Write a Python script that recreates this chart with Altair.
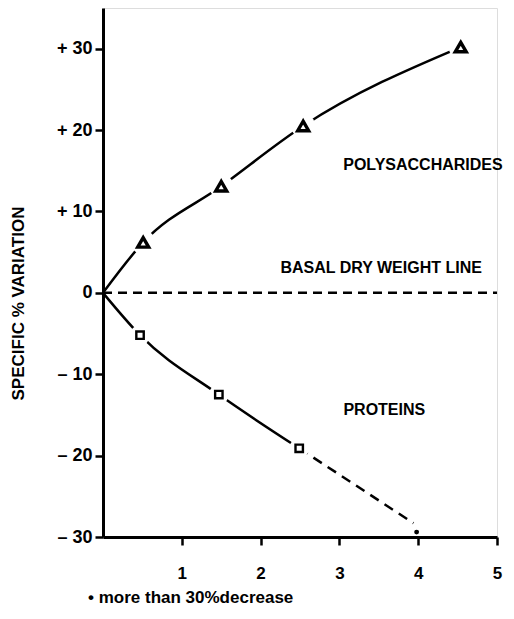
import altair as alt
import pandas as pd

# Polysaccharides (triangles)
poly_x = [0.0, 0.51, 1.5, 2.54, 4.54]
poly_y = [0.0, 6.2, 13.1, 20.5, 30.2]
# Proteins (squares), solid part
prot_x = [0.0, 0.47, 1.47, 2.49]
prot_y = [0.0, -5.2, -12.5, -19.1]
# Proteins dashed extension
prot_dash_x = [2.49, 3.94]
prot_dash_y = [-19.1, -28.3]
# more than 30% decrease point
dot_x = [3.98]
dot_y = [-29.4]
# basal dry weight line
base_x = [0.0, 5.0]
base_y = [0.0, 0.0]

y_ticks = [-30, -20, -10, 0, 10, 20, 30]
x_ticks = [1, 2, 3, 4, 5]

ann_text = ["POLYSACCHARIDES", "BASAL   DRY   WEIGHT   LINE", "PROTEINS"]
ann_x = [4.06, 3.53, 3.57]
ann_y = [15.7, 3.1, -14.4]

FONT = "Liberation Sans"

poly = pd.DataFrame({"x": poly_x, "y": poly_y})
prot = pd.DataFrame({"x": prot_x, "y": prot_y})
prot_dash = pd.DataFrame({"x": prot_dash_x, "y": prot_dash_y})
dot = pd.DataFrame({"x": dot_x, "y": dot_y})
base = pd.DataFrame({"x": base_x, "y": base_y})
ann = pd.DataFrame({"t": ann_text, "x": ann_x, "y": ann_y})

xs = alt.Scale(domain=[0, 5], nice=False, zero=False)
ys = alt.Scale(domain=[-30, 35], nice=False, zero=False)

X = alt.X("x:Q", scale=xs, axis=alt.Axis(
    values=x_ticks, title=None, grid=False, domainWidth=3, domainColor="black",
    tickColor="black", tickWidth=2.5, tickSize=8, labelPadding=20,
    labelFont=FONT, labelFontSize=17, labelFontWeight="bold", labelColor="black",
    labelFlush=False))
Y = alt.Y("y:Q", scale=ys, axis=alt.Axis(
    values=y_ticks, grid=False, domainWidth=3, domainColor="black",
    tickColor="black", tickWidth=2.5, tickSize=8, labelPadding=3,
    labelFont=FONT, labelFontSize=18, labelFontWeight="bold", labelColor="black",
    labelFlush=False,
    labelExpr="datum.value > 0 ? '+ ' + datum.value : (datum.value < 0 ? '\u2013 ' + abs(datum.value) : '0')",
    title="SPECIFIC % VARIATION", titleFont=FONT, titleFontSize=17,
    titleFontWeight="bold", titleColor="black", titleX=-85, titleY=295,
    titleAngle=270, titleAlign="center", titleBaseline="middle"))

base_line = alt.Chart(base).mark_line(color="black", strokeWidth=2.5, strokeDash=[9, 6]).encode(x=X, y=Y)
poly_line = alt.Chart(poly).mark_line(color="black", strokeWidth=2.5, interpolate="monotone").encode(x=X, y=Y)
prot_line = alt.Chart(prot).mark_line(color="black", strokeWidth=2.5, interpolate="monotone").encode(x=X, y=Y)
dash_line = alt.Chart(prot_dash).mark_line(color="black", strokeWidth=2.5, strokeDash=[10, 7]).encode(x=X, y=Y)

poly_pts = poly.iloc[1:].reset_index(drop=True)
prot_pts = prot.iloc[1:].reset_index(drop=True)
halo_poly = alt.Chart(poly_pts).mark_point(shape="circle", filled=True, fill="#ffffff", strokeWidth=0, opacity=1, size=580).encode(x=X, y=Y)
halo_prot = alt.Chart(prot_pts).mark_point(shape="circle", filled=True, fill="#ffffff", strokeWidth=0, opacity=1, size=400).encode(x=X, y=Y)
tri = alt.Chart(poly_pts).mark_point(shape="triangle-up", filled=False, color="black", strokeWidth=3.4, size=120, opacity=1).encode(x=X, y=Y)
sq = alt.Chart(prot_pts).mark_point(shape="square", filled=False, color="black", strokeWidth=2.4, size=55, opacity=1).encode(x=X, y=Y)
dotm = alt.Chart(dot).mark_point(shape="circle", filled=True, fill="black", strokeWidth=0, size=24, opacity=1).encode(x=X, y=Y)

labels = alt.Chart(ann).mark_text(font=FONT, fontSize=16, fontWeight="bold", color="black").encode(
    x=X, y=Y, text="t:N")

foot = alt.Chart(pd.DataFrame({"t": ["\u2022  more than 30%decrease"]})).mark_text(
    font=FONT, fontSize=17, fontWeight="bold", color="black", align="left", baseline="middle").encode(
    x=alt.value(-15), y=alt.value(590), text="t:N")

chart = alt.layer(
    base_line, poly_line, prot_line, dash_line, halo_poly, halo_prot, tri, sq, dotm, labels, foot
).properties(
    width=394, height=529,
    padding={"left": 95, "top": 0, "right": 9, "bottom": 72},
    autosize=alt.AutoSizeParams(type="none"),
).configure_view(stroke=None).configure(background="white")

chart.save("out.html", embed_options={"renderer": "svg", "actions": False})
